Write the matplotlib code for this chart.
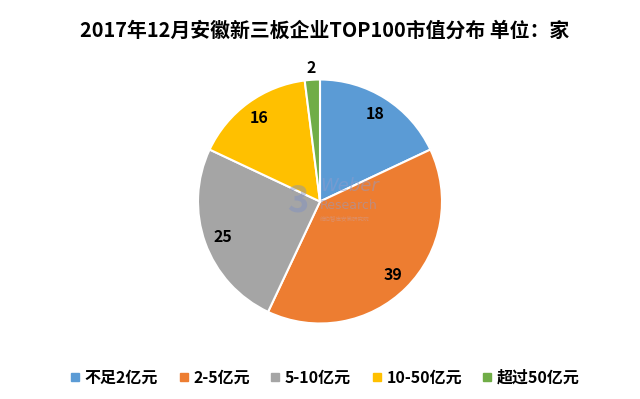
import matplotlib.pyplot as plt

plt.rcParams['font.family'] = ['Noto Sans CJK SC', 'DejaVu Sans']

categories = ['不足2亿元', '2-5亿元', '5-10亿元', '10-50亿元', '超过50亿元']
values = [18, 39, 25, 16, 2]
colors = ['#5B9BD5', '#ED7D31', '#A5A5A5', '#FFC000', '#70AD47']
title = '2017年12月安徽新三板企业TOP100市值分布 单位：家'

W, H = 640, 399
fig = plt.figure(figsize=(W / 100, H / 100), dpi=100)

# pie centre (320, 201.5) px from top, radius ~122 px
r_px = 122
cx, cy = 320, H - 201.5
side = 2.5 * r_px
ax = fig.add_axes([(cx - side / 2) / W, (cy - side / 2) / H, side / W, side / H])

wedges, texts, autotexts = ax.pie(values, colors=colors, startangle=90, counterclock=False,
                                  autopct=lambda p: '%d' % round(p), pctdistance=0.85,
                                  wedgeprops=dict(edgecolor='white', linewidth=1.5),
                                  textprops=dict(fontsize=11.5, fontweight='bold', color='black'))
# the small slice gets its label outside
autotexts[-1].set_position((autotexts[-1].get_position()[0] / 0.85 * 1.1,
                            autotexts[-1].get_position()[1] / 0.85 * 1.1))
ax.set_xlim(-1.25, 1.25)
ax.set_ylim(-1.25, 1.25)

# faint watermark
ax.text(-0.18, 0.0, '3', fontsize=26, fontweight='bold', color='#7f8fc4', alpha=0.45,
        ha='center', va='center')
ax.text(0.0, 0.13, 'Weber', fontsize=13, style='italic', color='#8f9ccc', alpha=0.5,
        ha='left', va='center', family='DejaVu Sans')
ax.text(0.0, -0.03, 'Research', fontsize=9, color='#8f9ccc', alpha=0.5,
        ha='left', va='center', family='DejaVu Sans')
ax.text(0.0, -0.14, '维伯智库安徽研究院', fontsize=4, color='#c9a0a0', alpha=0.5,
        ha='left', va='center')

fig.text(0.508, 1 - 30 / H, title, fontsize=14.3, fontweight='bold', ha='center', va='center')

handles = [plt.Line2D([], [], marker='s', linestyle='none', markersize=6,
                      markerfacecolor=c, markeredgecolor=c) for c in colors]
fig.legend(handles, categories, loc='center', bbox_to_anchor=(0.508, 1 - 378 / H), ncol=5,
           frameon=False, handlelength=0.6, handletextpad=0.3, columnspacing=1.3,
           prop=dict(size=11.5, weight='bold'))

fig.savefig('out.png', dpi=100)
